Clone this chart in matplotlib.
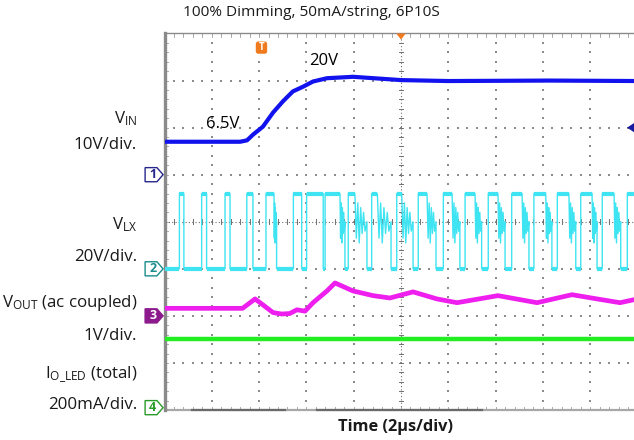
""" scope capture: 100% dimming start-up """

import numpy as np
import matplotlib.pyplot as plt
from matplotlib.patches import Polygon, FancyBboxPatch

plt.rcParams['font.family'] = ['Open Sans', 'DejaVu Sans']
plt.rcParams['mathtext.fontset'] = 'custom'
plt.rcParams['mathtext.rm'] = 'Open Sans'
plt.rcParams['mathtext.it'] = 'Open Sans:italic'

# scope settings: 2 us/div, channel ground (div) and scale (unit/div)
us_per_div = 2.0
vin_gnd, vin_scale = 5.0, 10.0
vlx_gnd, vlx_scale = 3.0, 20.0
vout_gnd, vout_scale = 2.0, 1.0
iled_gnd, iled_scale = 0.0, 200.0

# input voltage (V)
vin_t = [0.0, 3.2, 3.49, 3.74, 4.16, 4.59, 5.01, 5.43, 5.86, 6.28, 6.87, 7.97,
         10.0, 12.0, 16.3, 20.0]
vin_v = [7.0, 7.0, 7.3, 8.5, 10.2, 13.2, 15.6, 17.7, 18.7, 19.8, 20.5, 20.8,
         20.1, 19.9, 20.0, 19.9]

# output voltage, ac coupled (V)
vout_t = [0.0, 3.3, 3.83, 4.59, 4.95, 5.3, 5.6, 5.94, 6.28, 6.87, 7.21, 7.97,
          8.82, 9.53, 10.51, 11.52, 12.37, 14.1, 15.75, 17.23, 18.29, 19.26, 20.0]
vout_v = [0.16, 0.16, 0.36, 0.07, 0.04, 0.05, 0.13, 0.10, 0.28, 0.53, 0.70, 0.53,
          0.43, 0.38, 0.51, 0.36, 0.28, 0.43, 0.28, 0.45, 0.36, 0.28, 0.36]

# total LED current (mA)
iled_t = [0.0, 20.0]
iled_v = [302, 302]

# LX node: rising edge, end of flat top, start of low (us)
lx_rise = [0.63, 1.57, 2.56, 3.48, 4.29, 5.45, 6.01, 6.79, 7.77, 8.76, 9.82,
           10.73, 11.79, 12.71, 13.69, 14.68, 15.62, 16.61, 17.60, 18.51, 19.57]
lx_top_end = [0.82, 1.78, 2.77, 3.74, 4.63, 5.80, 6.71, 7.42, 8.05, 9.00, 10.03,
              11.10, 12.16, 13.13, 14.10, 15.12, 16.12, 17.10, 18.08, 19.01, 20.5]
lx_low = [0.82, 1.78, 2.77, 3.74, 4.74, 5.80, 6.71, 7.63, 8.56, 9.58, 10.51,
          11.48, 12.49, 13.41, 14.40, 15.41, 16.38, 17.39, 18.29, 19.29, 20.5]
lx_high = 32.0
# ringing after the flat top (fraction of ring time, V)
ring_frac = [0.0, 0.12, 0.24, 0.36, 0.48, 0.6, 0.72, 0.84, 1.0]
ring_v = [32.0, 13.0, 28.0, 11.0, 26.0, 15.0, 24.0, 16.0, 20.0]

C_VIN = '#1212EE'
C_VLX = '#3EE4F2'
C_VOUT = '#EE1EEE'
C_ILED = '#22EE22'
C_GRID = '#8c8c8c'

fig = plt.figure(figsize=(6.34, 4.40), dpi=100)
ax = fig.add_axes([164.5 / 634, 30 / 440, 473 / 634, 376.5 / 440])
ax.set_xlim(0, 10)
ax.set_ylim(0, 8)
ax.axis('off')

# --- graticule ---
dots_y = np.arange(0, 8.01, 0.2)
dots_x = np.arange(0, 10.01, 0.2)
for gx in [1, 2, 3, 4, 6, 7, 8, 9]:
    ax.scatter(np.full_like(dots_y, gx), dots_y, s=1.6, marker='s', lw=0,
               color=C_GRID, zorder=1)
for gy in [1, 2, 3, 5, 6, 7]:
    ax.scatter(dots_x, np.full_like(dots_x, gy), s=1.6, marker='s', lw=0,
               color=C_GRID, zorder=1)
ax.plot([0, 10], [4, 4], ls=(0, (1, 2)), lw=0.8, color='#707070', zorder=1)
ax.plot([5, 5], [0, 8], ls=(0, (1, 2)), lw=0.8, color='#707070', zorder=1)
for x in dots_x:
    ax.plot([x, x], [3.95, 4.05], lw=0.7, color='#707070', zorder=1)
    ax.plot([x, x], [0, 0.07], lw=0.6, color='#9a9a9a', zorder=1)
    ax.plot([x, x], [8, 7.93], lw=0.6, color='#9a9a9a', zorder=1)
for y in dots_y:
    ax.plot([4.95, 5.05], [y, y], lw=0.7, color='#707070', zorder=1)
    ax.plot([0, 0.08], [y, y], lw=0.6, color='#9a9a9a', zorder=1)

# borders
ax.plot([0, 10], [8, 8], lw=1.0, color='#8a8a8a', clip_on=False, zorder=2)
ax.plot([0, 10], [0, 0], lw=1.6, color='#a8a8a8', clip_on=False, zorder=2)
ax.plot([0.58, 2.55], [0, 0], lw=1.6, color='#6a6a6a', clip_on=False, zorder=2)
ax.plot([3.22, 6.71], [0, 0], lw=1.6, color='#6a6a6a', clip_on=False, zorder=2)
ax.plot([0, 0], [0, 8], lw=2.4, color='#8a8a8a', clip_on=False, zorder=2)

# --- traces ---
def to_div(t):
    return np.asarray(t) / us_per_div

lx_t, lx_v = [0.0], [0.0]
for r, te, tl in zip(lx_rise, lx_top_end, lx_low):
    lx_t += [r, r, te]
    lx_v += [0.0, lx_high, lx_high]
    if tl > te:
        for f, v in zip(ring_frac[1:], ring_v[1:]):
            lx_t.append(te + f * (tl - te))
            lx_v.append(v)
    lx_t.append(tl)
    lx_v.append(0.0)

ax.plot(to_div(vin_t), vin_gnd + np.asarray(vin_v) / vin_scale,
        color=C_VIN, lw=3.0, solid_joinstyle='round', zorder=4)

ax.plot(to_div(lx_t), vlx_gnd + np.asarray(lx_v) / vlx_scale,
        color=C_VLX, lw=1.0, zorder=3)
low_start = [0.0] + lx_low[:-1]
ax.hlines(vlx_gnd + np.zeros(len(lx_rise)), to_div(low_start), to_div(lx_rise),
          color=C_VLX, lw=3.0, zorder=3)
ax.hlines(vlx_gnd + np.full(len(lx_rise), lx_high / vlx_scale), to_div(lx_rise),
          to_div(lx_top_end), color=C_VLX, lw=3.0, zorder=3)

ax.plot(to_div(vout_t), vout_gnd + np.asarray(vout_v) / vout_scale,
        color=C_VOUT, lw=3.4, solid_joinstyle='round', zorder=4)
ax.plot(to_div(iled_t), iled_gnd + np.asarray(iled_v) / iled_scale,
        color=C_ILED, lw=3.2, zorder=4)

# --- channel markers ---
def ch_marker(y, num, edge, face, txt):
    pts = [(-0.41, y - 0.15), (-0.16, y - 0.15), (-0.03, y),
           (-0.16, y + 0.15), (-0.41, y + 0.15)]
    ax.add_patch(Polygon(pts, closed=True, fc=face, ec=edge, lw=1.0,
                         clip_on=False, zorder=5))
    ax.text(-0.25, y, num, ha='center', va='center', fontsize=9,
            color=txt, fontweight='bold', clip_on=False, zorder=6)

ch_marker(vin_gnd, '1', '#26268c', 'white', '#26268c')
ch_marker(vlx_gnd, '2', '#1a8c8c', 'white', '#1a8c8c')
ch_marker(vout_gnd, '3', '#8c1a8c', '#8c1a8c', 'white')
ch_marker(iled_gnd + 0.05, '4', '#2a9a2a', 'white', '#2a9a2a')

# trigger markers
ax.add_patch(FancyBboxPatch((1.93, 7.57), 0.24, 0.26,
                            boxstyle='round,pad=0.0,rounding_size=0.05',
                            fc='#F07A1E', ec='none', clip_on=False, zorder=5))
ax.text(2.05, 7.7, 'T', ha='center', va='center', fontsize=7,
        color='white', fontweight='bold', zorder=6)
ax.add_patch(Polygon([(4.9, 8.0), (5.1, 8.0), (5.0, 7.87)], closed=True,
                     fc='#F07A1E', ec='none', clip_on=False, zorder=5))
ax.add_patch(Polygon([(9.93, 6.1), (9.78, 6.0), (9.93, 5.9)], closed=True,
                     fc='#1a1aa0', ec='none', clip_on=False, zorder=5))

# level notes
ax.text(1.24, 6.07, '6.5V', ha='center', va='center', fontsize=12, zorder=6)
ax.text(3.37, 7.41, '20V', ha='center', va='center', fontsize=12, zorder=6)

# --- labels ---
lx = 137 / 634
labels = [
    (119, r'V$_{\mathrm{IN}}$'),
    (145, '10V/div.'),
    (225, r'V$_{\mathrm{LX}}$'),
    (257, '20V/div.'),
    (303, r'V$_{\mathrm{OUT}}$ (ac coupled)'),
    (336, '1V/div.'),
    (375, r'I$_{\mathrm{O\_LED}}$ (total)'),
    (405, '200mA/div.'),
]
for ypx, s in labels:
    fig.text(lx, 1 - ypx / 440, s, ha='right', va='center', fontsize=12.2,
             color='#1a1a1a')

fig.text(311 / 634, 1 - 12 / 440, '100% Dimming, 50mA/string, 6P10S',
         ha='center', va='center', fontsize=11.1, color='#1a1a1a')
fig.text(396 / 634, 1 - 427 / 440, 'Time (2µs/div)', ha='center', va='center',
         fontsize=11.8, fontweight='bold', color='#1a1a1a')

fig.savefig('out.png', dpi=100)
